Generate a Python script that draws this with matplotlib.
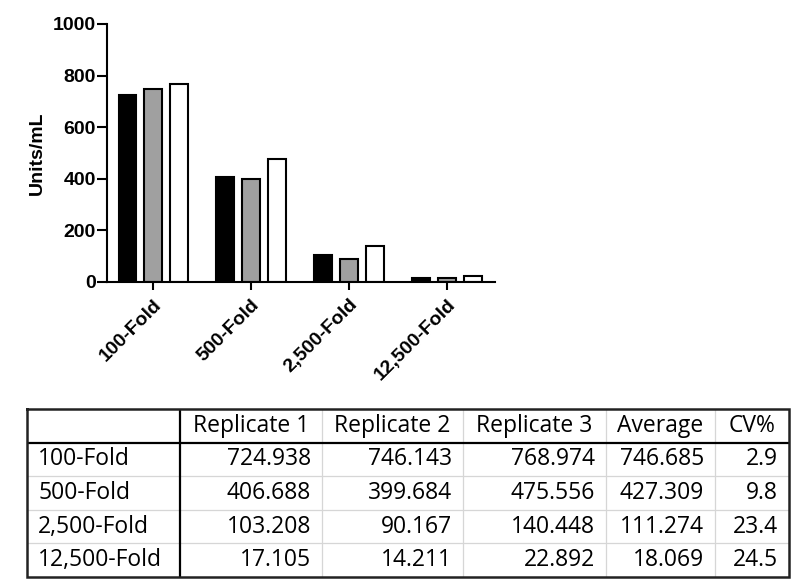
import matplotlib
matplotlib.use('Agg')
import matplotlib.pyplot as plt
import numpy as np

groups = ['100-Fold', '500-Fold', '2,500-Fold', '12,500-Fold']
rep1 = [724.938, 406.688, 103.208, 17.105]
rep2 = [746.143, 399.684, 90.167, 14.211]
rep3 = [768.974, 475.556, 140.448, 22.892]
average = [746.685, 427.309, 111.274, 18.069]
cv_pct = [2.9, 9.8, 23.4, 24.5]
col_labels = ['Replicate 1', 'Replicate 2', 'Replicate 3', 'Average', 'CV%']
y_ticks = [0, 200, 400, 600, 800, 1000]

plt.rcParams['font.family'] = ['Liberation Sans', 'DejaVu Sans']

W, H = 800, 588
fig = plt.figure(figsize=(8, 5.88), dpi=100)

# --- bar chart ---
ax = fig.add_axes([107 / W, 1 - 282 / H, (495 - 107) / W, (282 - 24) / H])
x = np.arange(len(groups))
bw = 0.175
off = 0.265
ax.bar(x - off, rep1, bw, color='black', edgecolor='black', linewidth=1.5)
ax.bar(x, rep2, bw, color='#a0a0a0', edgecolor='black', linewidth=1.5)
ax.bar(x + off, rep3, bw, color='white', edgecolor='black', linewidth=1.5)

ax.set_xlim(-0.47, 3.49)
ax.set_ylim(0, 1000)
ax.set_yticks(y_ticks)
ax.set_xticks(x)
ax.set_xticklabels(groups, rotation=45, ha='right', rotation_mode='anchor',
                   fontsize=14, fontweight='bold')
for lab in ax.get_yticklabels():
    lab.set_fontsize(14)
    lab.set_fontweight('bold')
ax.set_ylabel('Units/mL', fontsize=14, fontweight='bold', labelpad=5)
for s in ['top', 'right']:
    ax.spines[s].set_visible(False)
for s in ['left', 'bottom']:
    ax.spines[s].set_linewidth(1.5)
ax.tick_params(axis='y', width=1.5, length=7, pad=1)
ax.tick_params(axis='x', width=1.5, length=6, pad=4)
ax.spines['left'].set_zorder(3)

# --- table ---
tab = fig.add_axes([27 / W, 1 - 577 / H, (789 - 27) / W, (577 - 409) / H])
edges = [0, 153, 295, 436, 579, 688, 762]
nrows = len(groups) + 1
tab.set_xlim(0, 762)
tab.set_ylim(nrows, 0)
tab.axis('off')

tfont = dict(family=['Open Sans', 'DejaVu Sans'], fontsize=16.5, color='black')
pad = 11
for j, lab in enumerate(col_labels):
    tab.text((edges[j + 1] + edges[j + 2]) / 2, 0.5, lab, ha='center', va='center', **tfont)

columns = [rep1, rep2, rep3, average]
for i, g in enumerate(groups):
    yc = i + 1.5
    tab.text(edges[0] + pad, yc, g, ha='left', va='center', **tfont)
    for j, col in enumerate(columns):
        tab.text(edges[j + 2] - pad, yc, f'{col[i]:.3f}', ha='right', va='center', **tfont)
    tab.text(edges[6] - pad, yc, f'{cv_pct[i]:.1f}', ha='right', va='center', **tfont)

# grid lines
for r in range(2, nrows):
    tab.plot([0, 762], [r, r], color='#d6d6d6', lw=0.9, zorder=1)
for c in edges[2:-1]:
    tab.plot([c, c], [0, nrows], color='#d6d6d6', lw=0.9, zorder=1)
tab.plot([0, 762], [1, 1], color='black', lw=1.6, zorder=2)
tab.plot([edges[1], edges[1]], [0, nrows], color='black', lw=1.6, zorder=2)
tab.plot([0, 762, 762, 0, 0], [0, 0, nrows, nrows, 0], color='#222222', lw=1.8,
         zorder=3, clip_on=False, solid_joinstyle='miter')

fig.savefig('out.png', dpi=100, facecolor='white')
